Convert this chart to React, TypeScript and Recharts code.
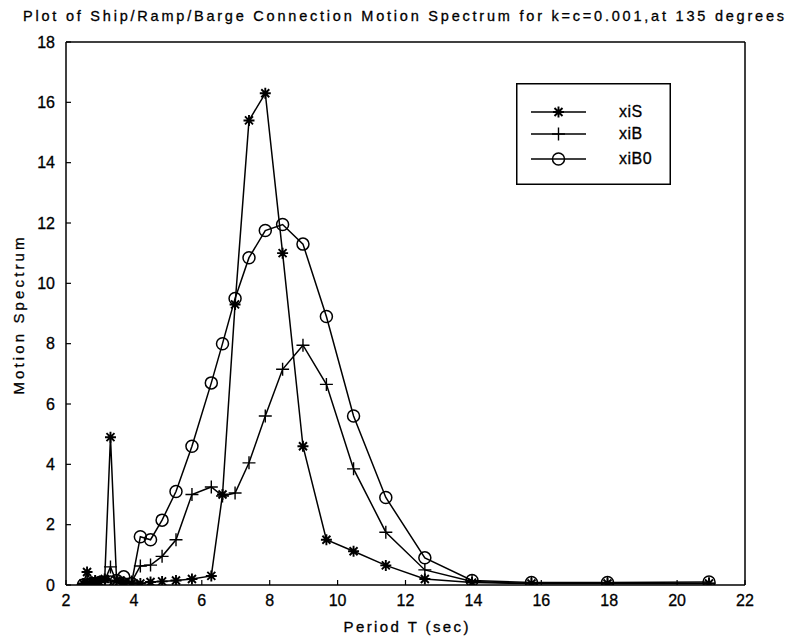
import React from "react";
import { LineChart, Line, XAxis, YAxis, Legend, Label } from "recharts";

// periods (sec) shared by all three series
const periods = [
  2.51, 2.62, 2.73, 2.86, 2.99, 3.14, 3.31, 3.49, 3.7, 3.93,
  4.19, 4.49, 4.83, 5.24, 5.71, 6.28, 6.61, 6.98, 7.39, 7.87,
  8.38, 8.98, 9.67, 10.47, 11.42, 12.57, 13.96, 15.71, 17.95, 20.94,
];

const xiS = [
  0.05, 0.43, 0.1, 0.15, 0.1, 0.2, 4.9, 0.15, 0.1, 0.05,
  0.05, 0.1, 0.12, 0.15, 0.2, 0.3, 3.0, 9.3, 15.4, 16.3,
  11.0, 4.6, 1.5, 1.12, 0.65, 0.2, 0.08, 0.05, 0.05, 0.05,
];

const xiB = [
  0.02, 0.05, 0.05, 0.1, 0.1, 0.15, 0.6, 0.1, 0.05, 0.1,
  0.63, 0.66, 0.95, 1.5, 3.0, 3.25, 2.95, 3.05, 4.05, 5.6,
  7.15, 7.95, 6.65, 3.85, 1.75, 0.5, 0.12, 0.05, 0.05, 0.05,
];

const xiB0 = [
  0.0, 0.0, 0.02, 0.05, 0.08, 0.1, 0.1, 0.15, 0.27, 0.05,
  1.6, 1.5, 2.15, 3.1, 4.6, 6.7, 8.0, 9.5, 10.85, 11.75,
  11.95, 11.3, 8.9, 5.6, 2.9, 0.9, 0.15, 0.08, 0.08, 0.1,
];

const seriesNames = ["xiS", "xiB", "xiB0"];
const xTicks = [2, 4, 6, 8, 10, 12, 14, 16, 18, 20, 22];
const yTicks = [0, 2, 4, 6, 8, 10, 12, 14, 16, 18];

const title = "Plot of Ship/Ramp/Barge Connection Motion Spectrum for k=c=0.001,at 135 degrees";

const data = periods.map((t, i) => ({
  t,
  xiS: xiS[i],
  xiB: xiB[i],
  xiB0: xiB0[i],
}));

const FONT = "'Liberation Sans', Arial, Helvetica, sans-serif";
const INK = "#000";

// matlab style markers
const starPath = (cx: number, cy: number) => {
  const r = 5.5, d = 4;
  return `M${cx - r},${cy}H${cx + r}M${cx},${cy - r}V${cy + r}M${cx - d},${cy - d}L${cx + d},${cy + d}M${cx - d},${cy + d}L${cx + d},${cy - d}`;
};
const plusPath = (cx: number, cy: number) => {
  const r = 6.5;
  return `M${cx - r},${cy}H${cx + r}M${cx},${cy - r}V${cy + r}`;
};

const Marker = ({ kind, cx, cy }: { kind: string; cx: number; cy: number }) => {
  if (kind === "xiB0") {
    return <circle cx={cx} cy={cy} r={6} fill="none" stroke={INK} strokeWidth={1.5} />;
  }
  const d = kind === "xiS" ? starPath(cx, cy) : plusPath(cx, cy);
  return <path d={d} stroke={INK} strokeWidth={kind === "xiS" ? 1.9 : 1.4} fill="none" />;
};

const makeDot = (kind: string) => (props: any) => {
  const { cx, cy, index } = props;
  if (cx == null || cy == null) return <g key={`${kind}-${index}`} />;
  return (
    <g key={`${kind}-${index}`}>
      <Marker kind={kind} cx={cx} cy={cy} />
    </g>
  );
};

const LegendBox = () => (
  <svg width={155} height={102} style={{ display: "block", overflow: "visible" }}>
    <rect x={0.75} y={0.75} width={153.5} height={100.5} fill="#fff" stroke={INK} strokeWidth={1.5} />
    {seriesNames.map((name, i) => {
      const y = [29, 51, 76][i];
      return (
        <g key={name}>
          <line x1={15} x2={70} y1={y} y2={y} stroke={INK} strokeWidth={1.5} />
          <Marker kind={name} cx={42.5} cy={y} />
          <text x={103} y={y + 5} fontSize={16} fontFamily={FONT} fill={INK} stroke={INK} strokeWidth={0.3} letterSpacing={0.5}>
            {name}
          </text>
        </g>
      );
    })}
  </svg>
);

const XTitle = (props: any) => {
  const { viewBox } = props;
  return (
    <text
      x={viewBox.x + viewBox.width / 2 - 62}
      y={632}
      textLength={125}
      lengthAdjust="spacing"
      fontSize={15}
      fontFamily={FONT}
      fill={INK}
      stroke={INK}
      strokeWidth={0.3}
    >
      Period T (sec)
    </text>
  );
};

const YTitle = (props: any) => {
  const { viewBox } = props;
  const cy = viewBox.y + viewBox.height / 2 + 3;
  return (
    <text
      x={24}
      y={cy}
      transform={`rotate(-90, 24, ${cy})`}
      dx={-78}
      textLength={157}
      lengthAdjust="spacing"
      fontSize={15}
      fontFamily={FONT}
      fill={INK}
      stroke={INK}
      strokeWidth={0.3}
    >
      Motion Spectrum
    </text>
  );
};

const tickStyle = { fill: INK, fontSize: 16, fontFamily: FONT, stroke: INK, strokeWidth: 0.3 };
const axisLine = { stroke: INK, strokeWidth: 1.5 };
const tickLine = { stroke: INK, strokeWidth: 1.2 };

export default function App() {
  return (
    <div style={{ position: "absolute", left: 0, top: 0, width: 794, height: 640, background: "#fff" }}>
      <svg width={794} height={30} style={{ position: "absolute", left: 0, top: 0 }}>
        <text
          x={23}
          y={21}
          textLength={761}
          lengthAdjust="spacing"
          fontSize={14.5}
          fontFamily={FONT}
          fill={INK}
          stroke={INK}
          strokeWidth={0.3}
        >
          {title}
        </text>
      </svg>
      <LineChart
        width={794}
        height={640}
        data={data}
        margin={{ top: 41, right: 48, bottom: 0, left: 0 }}
      >
        <XAxis
          dataKey="t"
          type="number"
          domain={[2, 22]}
          ticks={xTicks}
          interval={0}
          allowDataOverflow
          height={55}
          tickSize={-5}
          tickMargin={15}
          tick={tickStyle}
          axisLine={axisLine}
          tickLine={tickLine}
        >
          <Label content={<XTitle />} />
        </XAxis>
        {/* box frame: top and right axes carry ticks only */}
        <XAxis
          xAxisId="top"
          orientation="top"
          dataKey="t"
          type="number"
          domain={[2, 22]}
          ticks={xTicks}
          interval={0}
          allowDataOverflow
          height={1}
          tickSize={-5}
          tick={false}
          axisLine={axisLine}
          tickLine={tickLine}
        />
        <YAxis
          type="number"
          domain={[0, 18]}
          ticks={yTicks}
          interval={0}
          allowDataOverflow
          width={66}
          tickSize={-5}
          tickMargin={16}
          tick={tickStyle}
          axisLine={axisLine}
          tickLine={tickLine}
        >
          <Label content={<YTitle />} />
        </YAxis>
        <YAxis
          yAxisId="right"
          orientation="right"
          type="number"
          domain={[0, 18]}
          ticks={yTicks}
          interval={0}
          allowDataOverflow
          width={1}
          tickSize={-5}
          tick={false}
          axisLine={axisLine}
          tickLine={tickLine}
        />
        <Legend
          content={() => <LegendBox />}
          wrapperStyle={{ position: "absolute", left: 516, top: 83, width: 0, height: 0, overflow: "visible" }}
        />
        {seriesNames.map((name) => (
          <Line
            key={name}
            dataKey={name}
            xAxisId={name === "xiB" ? "top" : 0}
            yAxisId={name === "xiB" ? "right" : 0}
            type="linear"
            stroke={INK}
            strokeWidth={1.5}
            dot={makeDot(name)}
            activeDot={false}
            isAnimationActive={false}
          />
        ))}
      </LineChart>
    </div>
  );
}
